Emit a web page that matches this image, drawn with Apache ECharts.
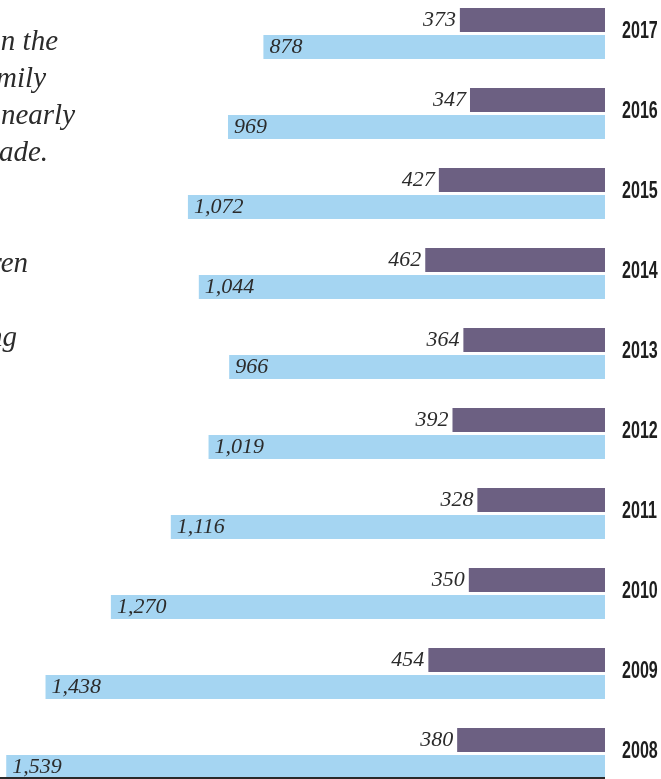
<!DOCTYPE html>
<html>
<head>
<meta charset="utf-8">
<style>
  html, body { margin: 0; padding: 0; background: #fff; }
  #chart { width: 661px; height: 779px; }
</style>
<script src="https://cdn.jsdelivr.net/npm/echarts@6/dist/echarts.min.js"></script>
</head>
<body>
<div id="chart"></div>
<script>
// years, top to bottom
const years = ['2017', '2016', '2015', '2014', '2013', '2012', '2011', '2010', '2009', '2008']
// purple (upper) bars
const purpleValues = [373, 347, 427, 462, 364, 392, 328, 350, 454, 380]
// light blue (lower) bars
const blueValues = [878, 969, 1072, 1044, 966, 1019, 1116, 1270, 1438, 1539]
// clipped paragraph on the left
const introLines = ['n the', 'mily', 'nearly', 'cade.', '', '', 'ren', '', 'ng']
const introRight = [58, 46, 75, 48, 0, 0, 28, 0, 17]

const chart = echarts.init(document.getElementById('chart'))

const serif = '"Liberation Serif", "DejaVu Serif", serif'
const fmt = v => v.toLocaleString('en-US')

const introText = []
introLines.forEach((line, i) => {
  if (!line) return
  introText.push({
    type: 'text',
    x: introRight[i],
    y: 51 + i * 37 - 9,
    style: {
      text: line,
      font: 'italic 29px ' + serif,
      fill: '#2b2b2b',
      textAlign: 'right',
      textVerticalAlign: 'middle'
    }
  })
})

// year labels: squeezed bold sans, no narrow font installed
function renderYear(params, api) {
  const pos = api.coord([0, api.value(1)])
  return {
    type: 'text',
    x: pos[0] + 17,
    y: pos[1] - 2,
    scaleX: 0.7,
    style: {
      text: years[params.dataIndex],
      font: 'bold 23px "Liberation Sans", Arial, sans-serif',
      fill: '#1e1e1e',
      textAlign: 'left',
      textVerticalAlign: 'middle'
    }
  }
}

chart.setOption({
  animation: false,
  grid: {
    left: 0,
    right: 56,
    top: -6.5,
    bottom: -14.5,
    outerBoundsMode: 'none',
    containLabel: false
  },
  xAxis: {
    type: 'value',
    inverse: true,
    min: 0,
    max: 1555,
    show: false
  },
  yAxis: {
    type: 'category',
    data: years,
    inverse: true,
    position: 'right',
    axisLine: { show: false },
    axisTick: { show: false },
    axisLabel: { show: false }
  },
  graphic: introText.concat([
    {
      type: 'line',
      z: 100,
      shape: { x1: 0, y1: 778, x2: 605, y2: 778 },
      style: { stroke: '#2a2a2a', lineWidth: 2 }
    }
  ]),
  series: [
    {
      name: 'purple',
      type: 'bar',
      data: purpleValues,
      barWidth: 24,
      barGap: '12.5%',
      itemStyle: { color: '#6c6082' },
      label: {
        show: true,
        position: 'left',
        distance: 4,
        formatter: p => fmt(p.value),
        fontFamily: serif,
        fontStyle: 'italic',
        fontSize: 22,
        color: '#2b2b2b'
      }
    },
    {
      name: 'blue',
      type: 'bar',
      data: blueValues,
      barWidth: 24,
      barGap: '12.5%',
      itemStyle: { color: '#a5d5f2' },
      label: {
        show: true,
        position: 'insideLeft',
        distance: 6,
        formatter: p => fmt(p.value),
        fontFamily: serif,
        fontStyle: 'italic',
        fontSize: 22,
        color: '#2b2b2b'
      }
    },
    {
      name: 'year',
      type: 'custom',
      renderItem: renderYear,
      encode: { x: 0, y: 1 },
      data: years.map(y => [0, y]),
      silent: true,
      clip: false
    }
  ]
})
</script>
</body>
</html>
